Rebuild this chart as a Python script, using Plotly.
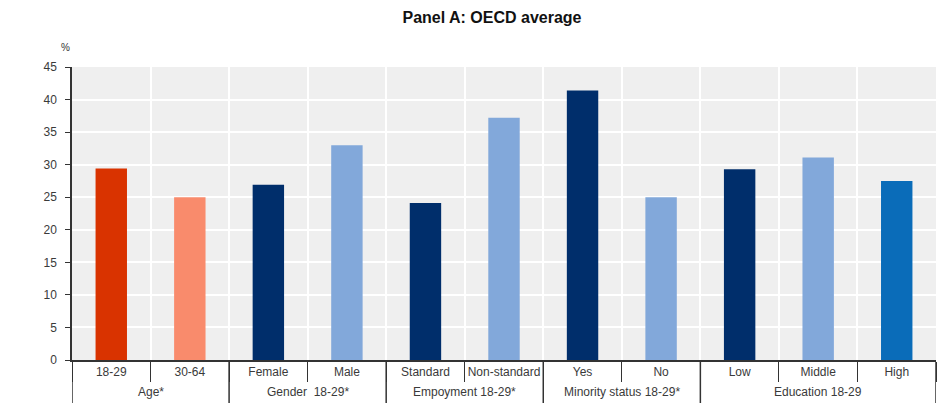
import plotly.graph_objects as go

groups = ["Age*", "Age*", "Gender  18-29*", "Gender  18-29*", "Empoyment 18-29*", "Empoyment 18-29*",
          "Minority status 18-29*", "Minority status 18-29*", "Education 18-29", "Education 18-29", "Education 18-29"]
categories = ["18-29", "30-64", "Female", "Male", "Standard", "Non-standard", "Yes", "No", "Low", "Middle", "High"]
values = [29.4, 25.0, 26.9, 33.0, 24.1, 37.2, 41.4, 25.0, 29.3, 31.1, 27.5]
colors = ["#d93300", "#f98b6c", "#002e6b", "#82a8da", "#002e6b", "#82a8da",
          "#002e6b", "#82a8da", "#002e6b", "#82a8da", "#0a6cb9"]
y_ticks = [0, 5, 10, 15, 20, 25, 30, 35, 40, 45]

# page body has an 8px margin, so the figure is sized to fit the 949x409 window
W, H = 941, 401
L, R, T, B = 64, 13, 59, 49
PW, PH = W - L - R, H - T - B

fig = go.Figure(go.Bar(x=list(range(len(categories))), y=values, marker_color=colors,
                       marker_line_width=0))

# group spans derived from the group list
spans = []
start = 0
for i in range(1, len(groups) + 1):
    if i == len(groups) or groups[i] != groups[start]:
        spans.append((groups[start], start, i - 1))
        start = i

shapes = []
annotations = []
for name, a, b in spans:
    annotations.append(dict(text=name, x=(a + b) / 2, xref="x", y=-32 / PH, yref="paper",
                            showarrow=False, xanchor="center", yanchor="middle",
                            font=dict(size=12, color="#3a3a3a")))
for bnd in [spans[0][1] - 0.5] + [b + 0.5 for _, _, b in spans]:
    shapes.append(dict(type="line", xref="x", yref="paper", x0=bnd, x1=bnd, y0=0, y1=-43 / PH,
                       line=dict(color="#333333", width=1.5)))

annotations.append(dict(text="%", xref="paper", yref="paper", x=-7 / PW, y=1 + 20 / PH,
                        showarrow=False, xanchor="center", yanchor="middle",
                        font=dict(size=10, color="#333333")))

fig.update_layout(
    width=W, height=H,
    margin=dict(l=L, r=R, t=T, b=B),
    paper_bgcolor="white",
    plot_bgcolor="#efefef",
    bargap=0.6,
    showlegend=False,
    font=dict(family="Liberation Sans, Arial", size=11, color="#3a3a3a"),
    title=dict(text="<b>Panel A: OECD average</b>", x=484 / W, xref="container", y=1 - 9 / H, yref="container",
               xanchor="center", yanchor="middle",
               font=dict(family="Liberation Sans, Arial", size=16, color="#111111")),
    shapes=shapes,
    annotations=annotations,
)

fig.update_yaxes(range=[0, 45], tickvals=y_ticks, showgrid=True, gridcolor="white", gridwidth=1.5,
                 zeroline=False, showline=True, linecolor="#333333", linewidth=1.5,
                 ticks="outside", ticklen=5, tickcolor="#333333", fixedrange=True,
                 ticklabelstandoff=6, automargin=False, tickfont=dict(size=12))
fig.update_xaxes(type="category", tickvals=list(range(len(categories))), ticktext=categories,
                 range=[-0.5, len(categories) - 0.5],
                 showline=True, linecolor="#333333", linewidth=1.5,
                 showgrid=True, gridcolor="white", gridwidth=1.5,
                 ticks="outside", tickson="boundaries", ticklen=20, tickcolor="#333333",
                 tickangle=0, automargin=False, fixedrange=True, tickfont=dict(size=12))

fig.write_html("out.html")
